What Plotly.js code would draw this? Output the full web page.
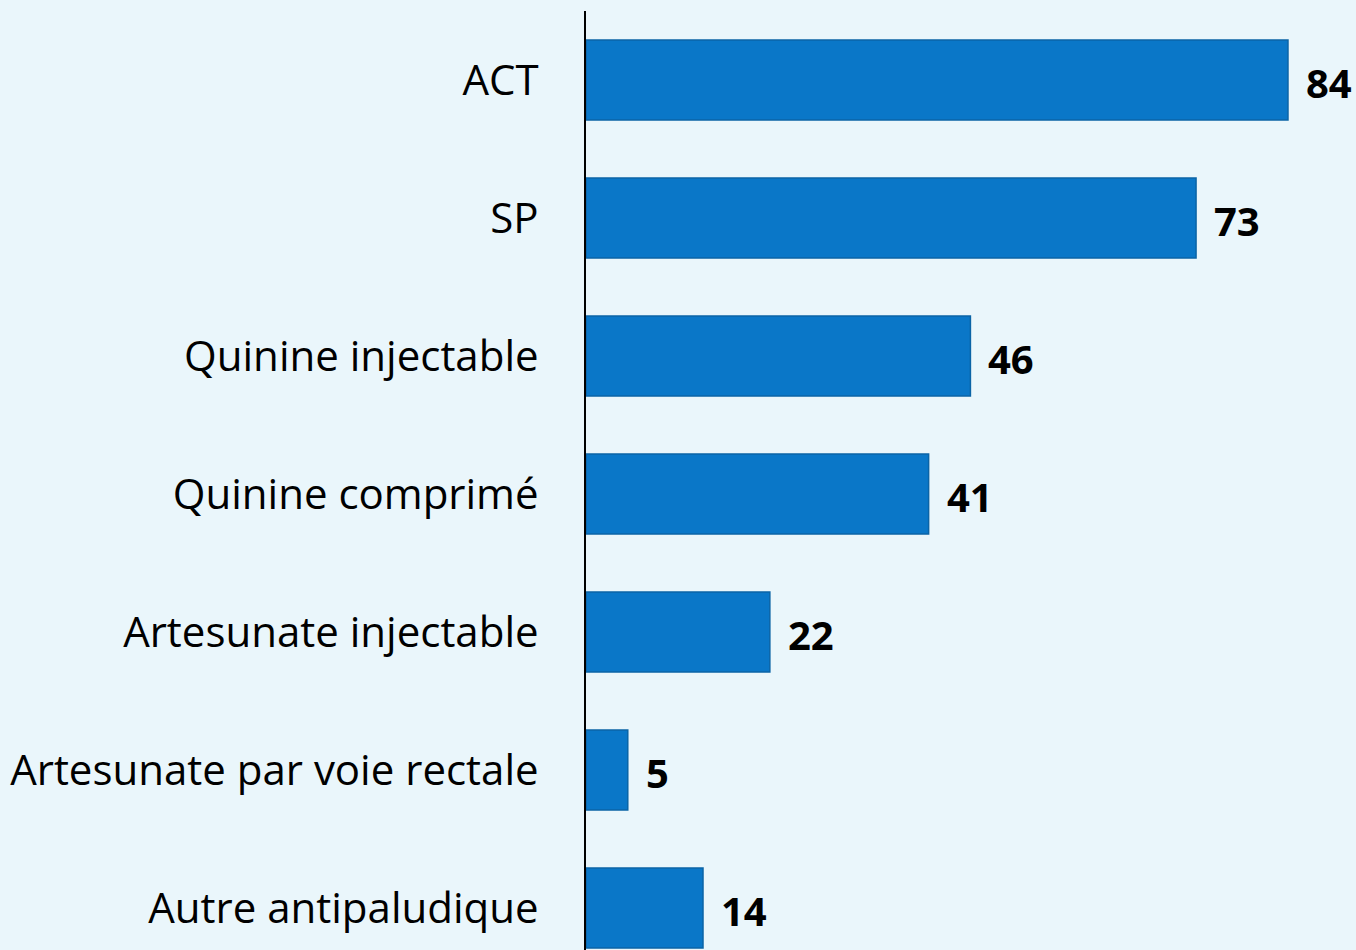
<!DOCTYPE html>
<html>
<head>
<meta charset="utf-8">
<script src="https://cdn.plot.ly/plotly-3.0.1.min.js"></script>
<style>html,body{margin:0;padding:0;background:#EAF6FB;}#chart{width:1356px;height:950px;}</style>
</head>
<body>
<div id="chart"></div>
<script>
const categories = ["ACT", "SP", "Quinine injectable", "Quinine comprimé", "Artesunate injectable", "Artesunate par voie rectale", "Autre antipaludique"];
const values = [84, 73, 46, 41, 22, 5, 14];

const trace = {
  type: "bar",
  orientation: "h",
  x: values,
  y: categories,
  width: 0.58,
  marker: { color: "#0A77C8", line: { color: "#0B64A6", width: 1.5 } },
  hoverinfo: "none"
};

const annotations = values.map((v, i) => ({
  x: v, y: categories[i], xref: "x", yref: "y",
  text: "<b>" + v + "</b>", showarrow: false,
  xanchor: "left", yanchor: "middle", xshift: 16, yshift: -2,
  font: { family: "Open Sans, sans-serif", size: 40, color: "#000" }
}));

const layout = {
  width: 1356, height: 950,
  paper_bgcolor: "#EAF6FB", plot_bgcolor: "#EAF6FB",
  margin: { l: 586, r: 0, t: 11, b: 0 },
  showlegend: false,
  xaxis: { range: [0, 92.14], showgrid: false, zeroline: false, showticklabels: false, showline: false, fixedrange: true },
  yaxis: {
    type: "category", range: [6.304, -0.5], showgrid: false, zeroline: false,
    showline: true, linecolor: "#000", linewidth: 2,
    ticks: "", ticklabelstandoff: 37,
    tickfont: { family: "Open Sans, sans-serif", size: 42, color: "#000" }
  },
  annotations: annotations
};

Plotly.newPlot("chart", [trace], layout, { staticPlot: true });
</script>
</body>
</html>
